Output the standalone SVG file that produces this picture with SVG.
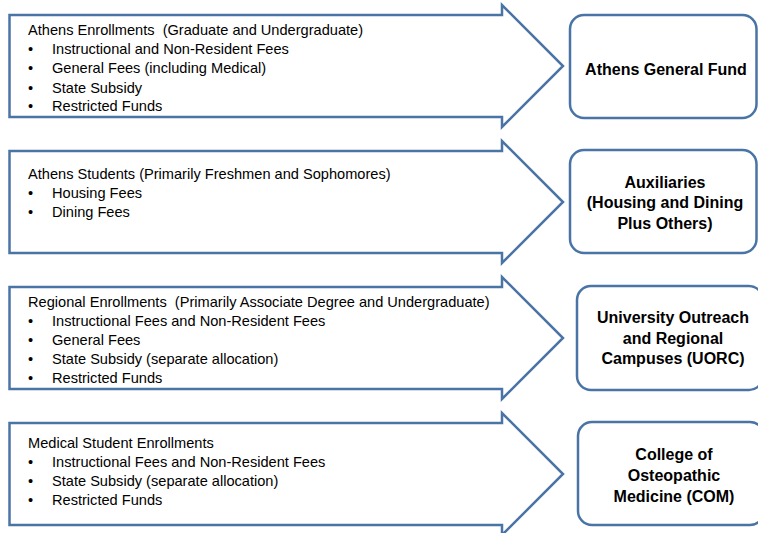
<svg xmlns="http://www.w3.org/2000/svg" width="758" height="533" viewBox="0 0 758 533">
<style>
.arrow{fill:#ffffff;stroke:#4a74a5;stroke-width:2.5;stroke-linejoin:miter}
.box{fill:#ffffff;stroke:#4a74a5;stroke-width:2.5}
.t{font-family:"Liberation Sans",Arial,sans-serif;font-size:14.6px;fill:#000;white-space:pre}
.b{font-family:"Liberation Sans",Arial,sans-serif;font-size:16px;font-weight:bold;fill:#000;text-anchor:middle}
</style>
<rect width="758" height="533" fill="#ffffff"/>
<g id="connectors">
<path class="arrow" d="M9.5,15 H502 V5 L563,66 L502,127 V117 H9.5 Z"/>
<path class="arrow" d="M9.5,151 H502 V141 L563,202 L502,263 V253 H9.5 Z"/>
<path class="arrow" d="M9.5,287 H502 V277 L563,338 L502,399 V389 H9.5 Z"/>
<path class="arrow" d="M9.5,423 H502 V413 L563,474 L502,535 V525 H9.5 Z"/>
</g>
<g id="src1">
<text class="t" x="28" y="34.5" xml:space="preserve">Athens Enrollments  (Graduate and Undergraduate)</text>
<text class="t" x="28" y="53.5">•</text><text class="t" x="52" y="53.5">Instructional and Non-Resident Fees</text>
<text class="t" x="28" y="73">•</text><text class="t" x="52" y="73">General Fees (including Medical)</text>
<text class="t" x="28" y="92.5">•</text><text class="t" x="52" y="92.5">State Subsidy</text>
<text class="t" x="28" y="110.5">•</text><text class="t" x="52" y="110.5">Restricted Funds</text>
</g>
<g id="src2">
<text class="t" x="28" y="178.5">Athens Students (Primarily Freshmen and Sophomores)</text>
<text class="t" x="28" y="197.5">•</text><text class="t" x="52" y="197.5">Housing Fees</text>
<text class="t" x="28" y="216.5">•</text><text class="t" x="52" y="216.5">Dining Fees</text>
</g>
<g id="src3">
<text class="t" x="28" y="306.5" xml:space="preserve">Regional Enrollments  (Primarily Associate Degree and Undergraduate)</text>
<text class="t" x="28" y="326">•</text><text class="t" x="52" y="326">Instructional Fees and Non-Resident Fees</text>
<text class="t" x="28" y="345">•</text><text class="t" x="52" y="345">General Fees</text>
<text class="t" x="28" y="364">•</text><text class="t" x="52" y="364">State Subsidy (separate allocation)</text>
<text class="t" x="28" y="382.5">•</text><text class="t" x="52" y="382.5">Restricted Funds</text>
</g>
<g id="src4">
<text class="t" x="28" y="448">Medical Student Enrollments</text>
<text class="t" x="28" y="467">•</text><text class="t" x="52" y="467">Instructional Fees and Non-Resident Fees</text>
<text class="t" x="28" y="486">•</text><text class="t" x="52" y="486">State Subsidy (separate allocation)</text>
<text class="t" x="28" y="505">•</text><text class="t" x="52" y="505">Restricted Funds</text>
</g>
<g id="dst1">
<rect class="box" x="570" y="15" width="186.5" height="103" rx="14"/>
<text class="b" x="666" y="75">Athens General Fund</text>
</g>
<g id="dst2">
<rect class="box" x="570" y="150" width="186.5" height="103" rx="14"/>
<text class="b" x="665" y="188">Auxiliaries</text>
<text class="b" x="665" y="208">(Housing and Dining</text>
<text class="b" x="665" y="228.5">Plus Others)</text>
</g>
<g id="dst3">
<rect class="box" x="577" y="286" width="186" height="104" rx="14"/>
<text class="b" x="673" y="323">University Outreach</text>
<text class="b" x="673" y="344">and Regional</text>
<text class="b" x="673" y="364">Campuses (UORC)</text>
</g>
<g id="dst4">
<rect class="box" x="578" y="422" width="186" height="103" rx="14"/>
<text class="b" x="674" y="460">College of</text>
<text class="b" x="674" y="481">Osteopathic</text>
<text class="b" x="674" y="501.5">Medicine (COM)</text>
</g>
</svg>
